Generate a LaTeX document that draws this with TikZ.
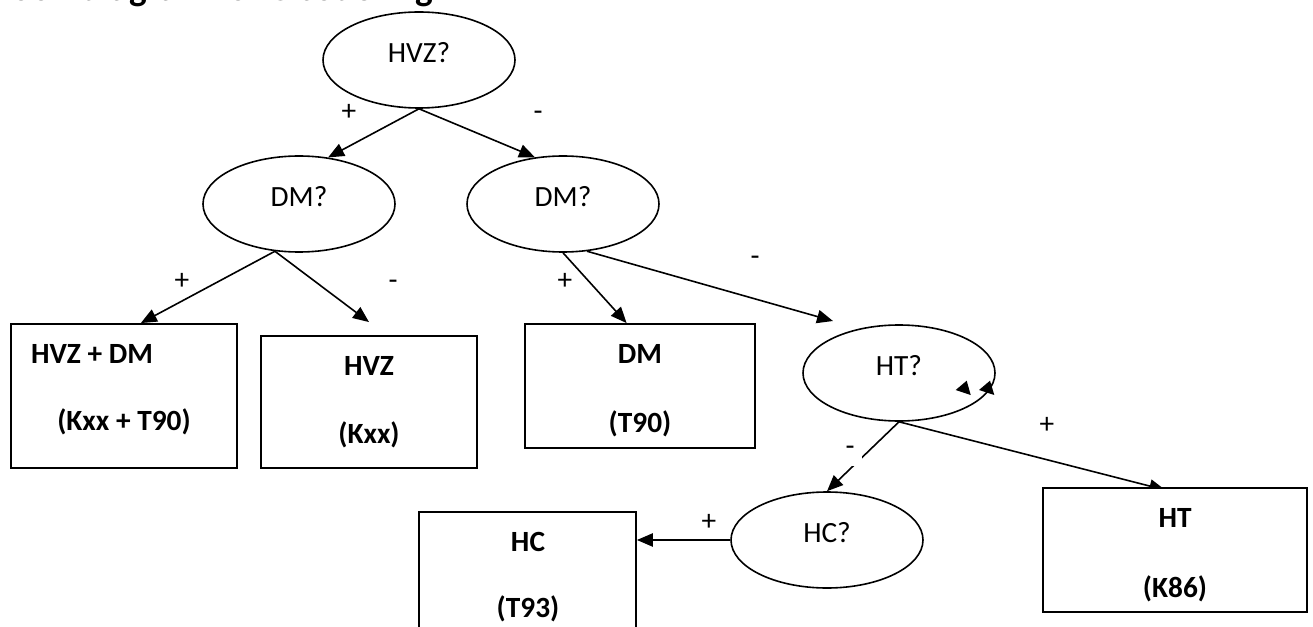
\documentclass[tikz,border=0pt]{standalone}
\usepackage{fontspec}
\setmainfont{Carlito}
\usetikzlibrary{arrows.meta,shapes.geometric,backgrounds}
\begin{document}
\begin{tikzpicture}[x=0.75pt,y=-0.75pt,
  question/.style={ellipse,draw,fill=white,line width=1.2pt,inner sep=0pt,
    minimum width=144pt,minimum height=72pt,
    font=\fontsize{22}{26}\selectfont,text height=0.65em,text depth=0.3em},
  outcome/.style={rectangle,draw,fill=white,line width=1.4pt,inner sep=0pt},
  code/.style={anchor=base,inner sep=0pt,font=\fontsize{22}{26}\selectfont\bfseries},
  answer/.style={anchor=base,inner sep=0pt,font=\fontsize{22}{26}\selectfont},
  flow/.style={line width=1.2pt,-{Triangle[length=12pt,width=10pt]}}
]
\clip (0,0) rectangle (1313,627);

% heading
\node[anchor=base west,inner sep=0pt,font=\fontsize{28}{33}\selectfont\bfseries]
  (title) at (-10,1) {Boomdiagram for C-codering};

% questions
\node[question] (hvz) at (419,60)  {HVZ?};
\node[question] (dml) at (299,204) {DM?};
\node[question] (dmr) at (563,204) {DM?};
\node[question] (ht)  at (899,373) {HT?};
\node[question] (hc)  at (827,540) {HC?};

% outcomes
\node[outcome,minimum width=169.5pt,minimum height=108pt] (hvzdm) at (124,396) {};
\node[outcome,minimum width=162pt,minimum height=99pt]    (hvzb)  at (369,402) {};
\node[outcome,minimum width=172.5pt,minimum height=93pt]  (dmb)   at (640,386) {};
\node[outcome,minimum width=198pt,minimum height=93pt]    (htb)   at (1175,550) {};
\node[outcome,minimum width=162.75pt,minimum height=99pt] (hcb)   at (527.5,578) {};

\node[code] (hvzdmA) at (92,363)  {HVZ + DM};
\node[code] (hvzdmB) at (124,430) {(Kxx + T90)};
\node[code] (hvzA)   at (369,375) {HVZ};
\node[code] (hvzB)   at (369,443) {(Kxx)};
\node[code] (dmA)    at (640,363) {DM};
\node[code] (dmB)    at (640,432) {(T90)};
\node[code] (htA)    at (1175,527) {HT};
\node[code] (htB)    at (1175,597) {(K86)};
\node[code] (hcA)    at (528,551) {HC};
\node[code] (hcB)    at (528,617) {(T93)};

% connectors, kept behind the shapes
\begin{scope}[on background layer]
\draw[flow] (hvz.south) -- (dml.58);
\draw[flow] (hvz.south) -- (dmr.121);
\draw[flow] (dml.-117) -- (hvzdm.77.5);
\draw[flow] (dml.-117) -- ([yshift=9.75pt]hvzb.north);
\draw[flow] (dmr.south) -- (dmb.102);
\draw[flow] (dmr.-63) -- ([xshift=-49.5pt,yshift=39pt]ht.center);
\draw[flow] (ht.south) -- (hc.north);
\draw[flow] (ht.south) -- ([xshift=9pt,yshift=-2.25pt]htb.109.5);
\draw[flow] (hc.west) -- (hc.west -| hcb.east);
\end{scope}

% loose arrow heads beside HT?
\fill (955.7,390) -- (966.7,380.7) -- (970.7,395) -- cycle;
\fill (979,390) -- (990,380.7) -- (994.3,395) -- cycle;

% branch labels
\node[answer] (l1) at (349,121) {+};
\node[answer] (l2) at (538,121) {-};
\node[answer] (l3) at (182,290) {+};
\node[answer] (l4) at (393,290) {-};
\node[answer] (l5) at (565,290) {+};
\node[answer] (l6) at (755,266) {-};
\node[fill=white,inner sep=0pt,minimum width=18pt,minimum height=20pt,
  text height=0.6em,text depth=0.3em,font=\fontsize{22}{26}\selectfont]
  (l7) at (850,453) {-};
\node[answer] (l8) at (1047,433) {+};
\node[answer] (l9) at (709,530) {+};
\end{tikzpicture}
\end{document}
